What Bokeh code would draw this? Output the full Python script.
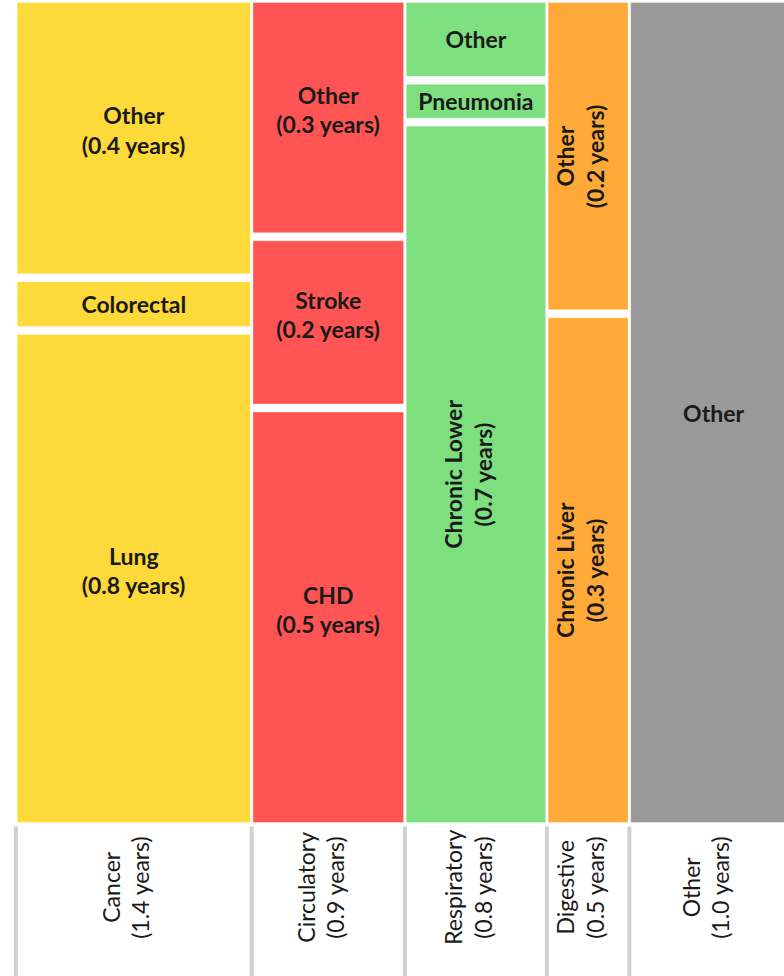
import math
from bokeh.plotting import figure
from bokeh.models import Range1d, ColumnDataSource
from bokeh.core.properties import value
from bokeh.embed import file_html
from bokeh.resources import INLINE

# ---------------- data ----------------
categories = ["Cancer", "Circulatory", "Respiratory", "Digestive", "Other"]
category_labels = ["Cancer\n(1.4 years)", "Circulatory\n(0.9 years)",
                   "Respiratory\n(0.8 years)", "Digestive\n(0.5 years)",
                   "Other\n(1.0 years)"]
category_colors = ["#FDD93A", "#FF5454", "#7EDF7E", "#FFAA38", "#999999"]

# segments listed bottom to top (years of life lost)
cancer_segments = ["Lung", "Colorectal", "Other"]
cancer_values = [0.84, 0.09, 0.47]
cancer_labels = ["Lung\n(0.8 years)", "Colorectal", "Other\n(0.4 years)"]
cancer_rotated = [False, False, False]

circulatory_segments = ["CHD", "Stroke", "Other"]
circulatory_values = [0.46, 0.19, 0.26]
circulatory_labels = ["CHD\n(0.5 years)", "Stroke\n(0.2 years)", "Other\n(0.3 years)"]
circulatory_rotated = [False, False, False]

respiratory_segments = ["Chronic Lower", "Pneumonia", "Other"]
respiratory_values = [0.72, 0.043, 0.08]
respiratory_labels = ["Chronic Lower\n(0.7 years)", "Pneumonia", "Other"]
respiratory_rotated = [True, False, False]

digestive_segments = ["Chronic Liver", "Other"]
digestive_values = [0.304, 0.186]
digestive_labels = ["Chronic Liver\n(0.3 years)", "Other\n(0.2 years)"]
digestive_rotated = [True, True]

other_segments = ["Other"]
other_values = [1.0]
other_labels = ["Other"]
other_rotated = [False]

all_values = [cancer_values, circulatory_values, respiratory_values, digestive_values, other_values]
all_labels = [cancer_labels, circulatory_labels, respiratory_labels, digestive_labels, other_labels]
all_rotated = [cancer_rotated, circulatory_rotated, respiratory_rotated, digestive_rotated, other_rotated]

# ---------------- styling constants ----------------
COL_GAP = 0.0077   # half gap between columns (x data units)
ROW_GAP = 0.0049   # half gap between stacked tiles (y fraction)
LABEL_Y = -0.079
SEP_TOP = -0.005
SEP_BOTTOM = -0.30
MULTILINE_SHIFT = 8  # px, moves two-line blocks toward their text "top"

# ---------------- build geometry ----------------
tiles = dict(left=[], right=[], bottom=[], top=[], color=[])
tlabels = dict(x=[], y=[], text=[], angle=[], xo=[], yo=[])
clabels = dict(x=[], y=[], text=[])
seps = dict(x0=[], y0=[], x1=[], y1=[])

x0 = 0.0
for ci, vals in enumerate(all_values):
    width = sum(vals)
    x1 = x0 + width
    cum = 0.0
    n = len(vals)
    for si, v in enumerate(vals):
        b = cum / width
        t = (cum + v) / width
        cum += v
        bb = b + (ROW_GAP if si > 0 else 0)
        tt = t - (ROW_GAP if si < n - 1 else 0)
        tiles["left"].append(x0 + COL_GAP)
        tiles["right"].append(x1 - COL_GAP)
        tiles["bottom"].append(bb)
        tiles["top"].append(tt)
        tiles["color"].append(category_colors[ci])
        txt = all_labels[ci][si]
        rot = all_rotated[ci][si]
        multi = "\n" in txt
        tlabels["x"].append((x0 + x1) / 2)
        tlabels["y"].append((bb + tt) / 2)
        tlabels["text"].append(txt)
        tlabels["angle"].append(math.pi / 2 if rot else 0.0)
        tlabels["xo"].append(-MULTILINE_SHIFT if (multi and rot) else 0)
        tlabels["yo"].append(-MULTILINE_SHIFT if (multi and not rot) else 0)
    clabels["x"].append((x0 + x1) / 2)
    clabels["y"].append(LABEL_Y)
    clabels["text"].append(category_labels[ci])
    seps["x0"].append(x0)
    seps["x1"].append(x0)
    seps["y0"].append(SEP_TOP)
    seps["y1"].append(SEP_BOTTOM)
    x0 = x1

p = figure(width=784, height=976, output_backend="svg", toolbar_location=None,
           x_range=Range1d(-0.0914, 4.5641), y_range=Range1d(-0.1878, 1.00244),
           min_border=0, outline_line_color=None, background_fill_color="white")
p.xaxis.visible = False
p.yaxis.visible = False
p.grid.visible = False

p.quad(left="left", right="right", bottom="bottom", top="top", fill_color="color",
       line_color="white", line_alpha=0.35, line_width=1, source=ColumnDataSource(tiles))

p.segment(x0="x0", y0="y0", x1="x1", y1="y1", line_color="#D0D0D0", line_width=4,
          source=ColumnDataSource(seps))

p.text(x="x", y="y", text="text", angle="angle", x_offset="xo", y_offset="yo",
       source=ColumnDataSource(tlabels),
       text_font=value("Lato"), text_font_style="bold", text_font_size="23px",
       text_align="center", text_baseline="middle", text_line_height=1.05,
       text_color="#1A1A1A")

p.text(x="x", y="y", text="text", angle=math.pi / 2, x_offset=-MULTILINE_SHIFT,
       source=ColumnDataSource(clabels),
       text_font=value("Lato"), text_font_style="normal", text_font_size="23px",
       text_align="center", text_baseline="middle", text_line_height=1.05,
       text_color="#1A1A1A")

open("out.html", "w").write(file_html(p, INLINE))
